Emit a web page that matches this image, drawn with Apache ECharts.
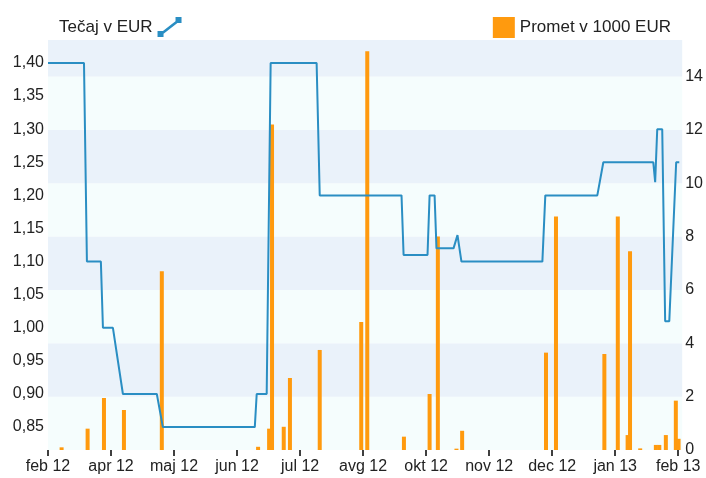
<!DOCTYPE html>
<html>
<head>
<meta charset="utf-8">
<title>Tečaj in promet</title>
<script src="https://cdn.jsdelivr.net/npm/echarts/dist/echarts.min.js"></script>
<style>
  html, body { margin: 0; padding: 0; background: #fff; }
  #chart { width: 706px; height: 478px; }
</style>
</head>
<body>
<div id="chart"></div>
<script>
// x = days counted from the first tick (feb 12)
const tickDays = [0, 36.6, 73.2, 109.8, 146.4, 183, 219.6, 256.2, 292.8, 329.4, 366];
const tickLabels = ['feb 12', 'apr 12', 'maj 12', 'jun 12', 'jul 12', 'avg 12', 'okt 12', 'nov 12', 'dec 12', 'jan 13', 'feb 13'];
const rateTicks = [0.85, 0.90, 0.95, 1.00, 1.05, 1.10, 1.15, 1.20, 1.25, 1.30, 1.35, 1.40];

// Tečaj v EUR (line)
const lineDays  = [0, 20.9, 22.6, 30.7, 31.9, 37.7, 43.5, 63.2, 66.7, 120.1, 121.2, 127, 129.3, 156, 157.8,
                   205.3, 206.5, 220.4, 221.6, 224.5, 225.6, 235.5, 237.8, 240.1, 287.1, 288.8, 319, 322.5,
                   351.5, 352.6, 353.8, 356.7, 358.4, 360.8, 364.8, 366.6];
const lineRates = [1.40, 1.40, 1.10, 1.10, 1.00, 1.00, 0.90, 0.90, 0.85, 0.85, 0.90, 0.90, 1.40, 1.40, 1.20,
                   1.20, 1.11, 1.11, 1.20, 1.20, 1.12, 1.12, 1.14, 1.10, 1.10, 1.20, 1.20, 1.25,
                   1.25, 1.22, 1.30, 1.30, 1.01, 1.01, 1.25, 1.25];

// Promet v 1000 EUR (bars)
const barDays   = [7.9, 23.0, 32.5, 44.1, 66.1, 122.0, 128.4, 130.1, 136.9, 140.5, 157.8, 181.9, 185.4,
                   206.7, 221.6, 226.4, 237.2, 240.5, 289.2, 295.0, 323.1, 330.9, 336.6, 338.0, 343.9,
                   353.0, 355.0, 358.8, 364.6, 366.2];
const barValues = [0.1, 0.8, 1.95, 1.5, 6.7, 0.12, 0.8, 12.2, 0.87, 2.7, 3.75, 4.8, 14.95,
                   0.5, 2.1, 8.0, 0.05, 0.72, 3.65, 8.75, 3.6, 8.75, 0.56, 7.45, 0.06,
                   0.19, 0.19, 0.56, 1.85, 0.42];

const font = 'Liberation Sans, Arial, sans-serif';
const txt = '#222';

var myChart = echarts.init(document.getElementById('chart'));
var option = {
  animation: false,
  textStyle: { fontFamily: font },
  grid: { left: 48, right: 23, top: 40, bottom: 28 },
  legend: [
    {
      data: ['Tečaj v EUR'],
      left: 54, top: 12,
      align: 'right',
      itemWidth: 24, itemHeight: 20,
      icon: 'path://M0,14H6V20H0Z M18,0H24V6H18Z M2.2,16.4 L20.2,2.4 L21.8,4.4 L3.8,18.4Z',
      textStyle: { fontSize: 17, color: txt, fontFamily: font }
    },
    {
      data: ['Promet v 1000 EUR'],
      right: 30, top: 12,
      itemWidth: 22, itemHeight: 21,
      icon: 'rect',
      textStyle: { fontSize: 17, color: txt, fontFamily: font }
    }
  ],
  xAxis: {
    type: 'value',
    min: 0,
    max: 368.3,
    axisLine: { show: false },
    splitLine: { show: false },
    axisTick: { customValues: tickDays, length: 6, lineStyle: { color: '#000', width: 1.5 } },
    axisLabel: {
      customValues: tickDays,
      fontSize: 16, color: txt, margin: 9,
      formatter: function (v) { return tickLabels[Math.round(v / 36.6)]; }
    }
  },
  yAxis: [
    {
      type: 'value',
      min: 0.8154,
      max: 1.4347,
      axisLine: { show: false },
      axisTick: { show: false },
      splitLine: { show: false },
      axisLabel: {
        customValues: rateTicks,
        fontSize: 16, color: txt, margin: 4,
        formatter: function (v) { return v.toFixed(2).replace('.', ','); }
      }
    },
    {
      type: 'value',
      min: 0,
      max: 15.37,
      interval: 2,
      position: 'right',
      axisLine: { show: false },
      axisTick: { show: false },
      splitLine: { show: false },
      splitArea: { show: true, areaStyle: { color: ['#f5fdfd', '#eaf2fa'] } },
      axisLabel: { fontSize: 16, color: txt, margin: 3, showMaxLabel: false }
    }
  ],
  series: [
    {
      name: 'Tečaj v EUR',
      type: 'line',
      yAxisIndex: 0,
      showSymbol: false,
      color: '#2a8ec3',
      lineStyle: { width: 2, color: '#2a8ec3' },
      data: lineDays.map(function (d, i) { return [d, lineRates[i]]; })
    },
    {
      name: 'Promet v 1000 EUR',
      type: 'bar',
      yAxisIndex: 1,
      barWidth: 4,
      color: '#ff9a0e',
      data: barDays.map(function (d, i) { return [d, barValues[i]]; })
    }
  ]
};
myChart.setOption(option);
</script>
</body>
</html>
